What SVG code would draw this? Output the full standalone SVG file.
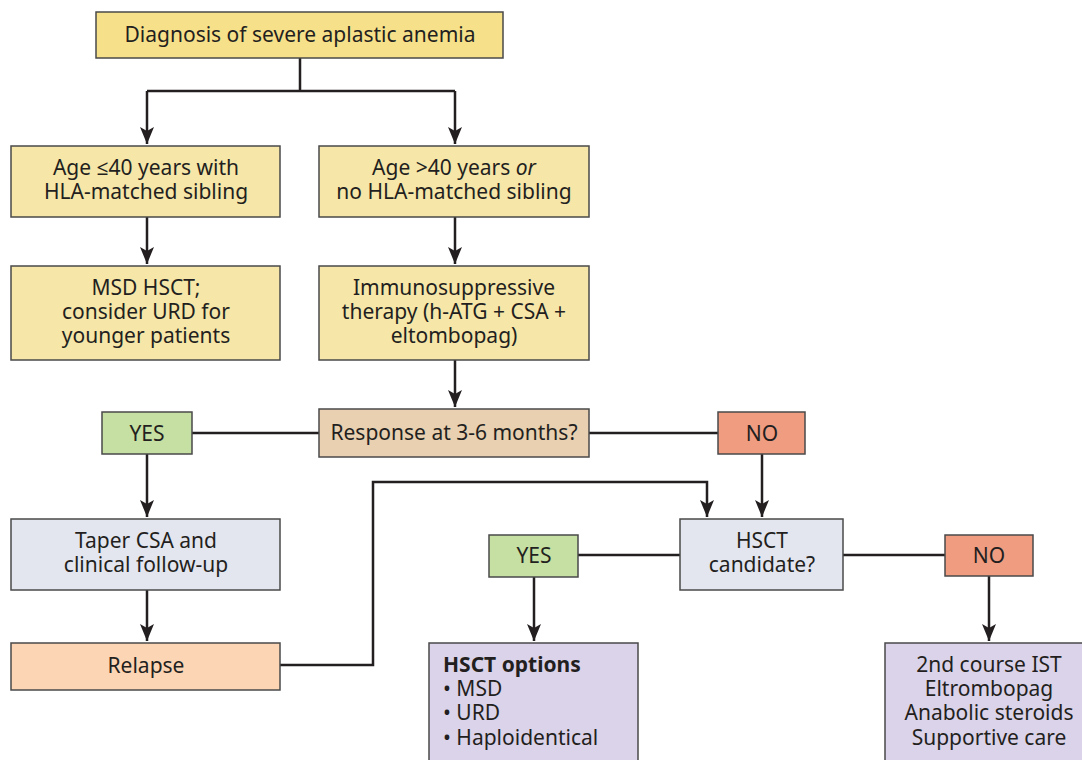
<svg xmlns="http://www.w3.org/2000/svg" width="1082" height="760" viewBox="0 0 1082 760">
<style>
text{font-family:"Noto Sans","Open Sans","Liberation Sans",sans-serif;font-size:21px;fill:#231f20;text-anchor:middle}
.l{text-anchor:start}
.b{font-weight:bold}
rect{stroke:#4a4a4a;stroke-width:1.5}
.c{fill:none;stroke:#231f20;stroke-width:2.5}
.y1{fill:#f7e08a}.y2{fill:#f6e6a8}.tan{fill:#e8d0b0}.g{fill:#c5e0a2}.r{fill:#f09c80}.bl{fill:#e3e6ef}.pk{fill:#fcd5b4}.pu{fill:#dbd3e9}
</style>
<defs>
<marker id="a" markerUnits="userSpaceOnUse" markerWidth="18" markerHeight="16" refX="17" refY="8" orient="auto" viewBox="0 0 18 16">
<path d="M0,1 L4,8 L0,15 L17,8 Z" fill="#231f20"/>
</marker>
</defs>
<g id="connectors">
<path class="c" d="M300,58 V91 M147,91 H455"/>
<path class="c" d="M147,91 V144" marker-end="url(#a)"/>
<path class="c" d="M455,91 V144" marker-end="url(#a)"/>
<path class="c" d="M147,217 V264" marker-end="url(#a)"/>
<path class="c" d="M455,217 V264" marker-end="url(#a)"/>
<path class="c" d="M455,360 V407" marker-end="url(#a)"/>
<path class="c" d="M192,433 H319 M589,433 H718"/>
<path class="c" d="M147,454 V517" marker-end="url(#a)"/>
<path class="c" d="M762,454 V517" marker-end="url(#a)"/>
<path class="c" d="M147,590 V641" marker-end="url(#a)"/>
<path class="c" d="M280,665 H373 V482 H707 V517" marker-end="url(#a)"/>
<path class="c" d="M578,555 H680 M843,555 H945"/>
<path class="c" d="M534,577 V641" marker-end="url(#a)"/>
<path class="c" d="M989,576 V641" marker-end="url(#a)"/>
</g>
<g id="diagnosis"><rect class="y1" x="96" y="12" width="407" height="46"/><text x="300" y="42">Diagnosis of severe aplastic anemia</text></g>
<g id="age-le40"><rect class="y2" x="11" y="146" width="269" height="71"/><text x="146" y="175">Age ≤40 years with</text><text x="146" y="199">HLA-matched sibling</text></g>
<g id="age-gt40"><rect class="y2" x="319" y="146" width="270" height="71"/><text x="454" y="175">Age &gt;40 years <tspan font-style="italic">or</tspan></text><text x="454" y="199">no HLA-matched sibling</text></g>
<g id="msd-hsct"><rect class="y2" x="11" y="266" width="269" height="94"/><text x="146" y="295">MSD HSCT;</text><text x="146" y="319">consider URD for</text><text x="146" y="343">younger patients</text></g>
<g id="ist"><rect class="y2" x="319" y="266" width="270" height="94"/><text x="454" y="295">Immunosuppressive</text><text x="454" y="319">therapy (h-ATG + CSA +</text><text x="454" y="343">eltombopag)</text></g>
<g id="response"><rect class="tan" x="319" y="409" width="270" height="48"/><text x="454" y="440">Response at 3-6 months?</text></g>
<g id="yes1"><rect class="g" x="102" y="412" width="90" height="42"/><text x="147" y="441">YES</text></g>
<g id="no1"><rect class="r" x="718" y="412" width="87" height="42"/><text x="762" y="441">NO</text></g>
<g id="taper"><rect class="bl" x="11" y="519" width="269" height="71"/><text x="146" y="548">Taper CSA and</text><text x="146" y="572">clinical follow-up</text></g>
<g id="hsct-candidate"><rect class="bl" x="680" y="519" width="163" height="71"/><text x="762" y="548">HSCT</text><text x="762" y="572">candidate?</text></g>
<g id="relapse"><rect class="pk" x="11" y="643" width="269" height="47"/><text x="146" y="673">Relapse</text></g>
<g id="yes2"><rect class="g" x="489" y="535" width="89" height="42"/><text x="534" y="563">YES</text></g>
<g id="no2"><rect class="r" x="945" y="535" width="88" height="41"/><text x="989" y="563">NO</text></g>
<g id="hsct-options"><rect class="pu" x="429" y="643" width="209" height="125"/><text class="l b" x="443" y="672">HSCT options</text><text class="l" x="443" y="696">• MSD</text><text class="l" x="443" y="720">• URD</text><text class="l" x="443" y="745">• Haploidentical</text></g>
<g id="alternatives"><rect class="pu" x="885" y="643" width="205" height="125"/><text x="989" y="672">2nd course IST</text><text x="989" y="696">Eltrombopag</text><text x="989" y="720">Anabolic steroids</text><text x="989" y="745">Supportive care</text></g>
</svg>
